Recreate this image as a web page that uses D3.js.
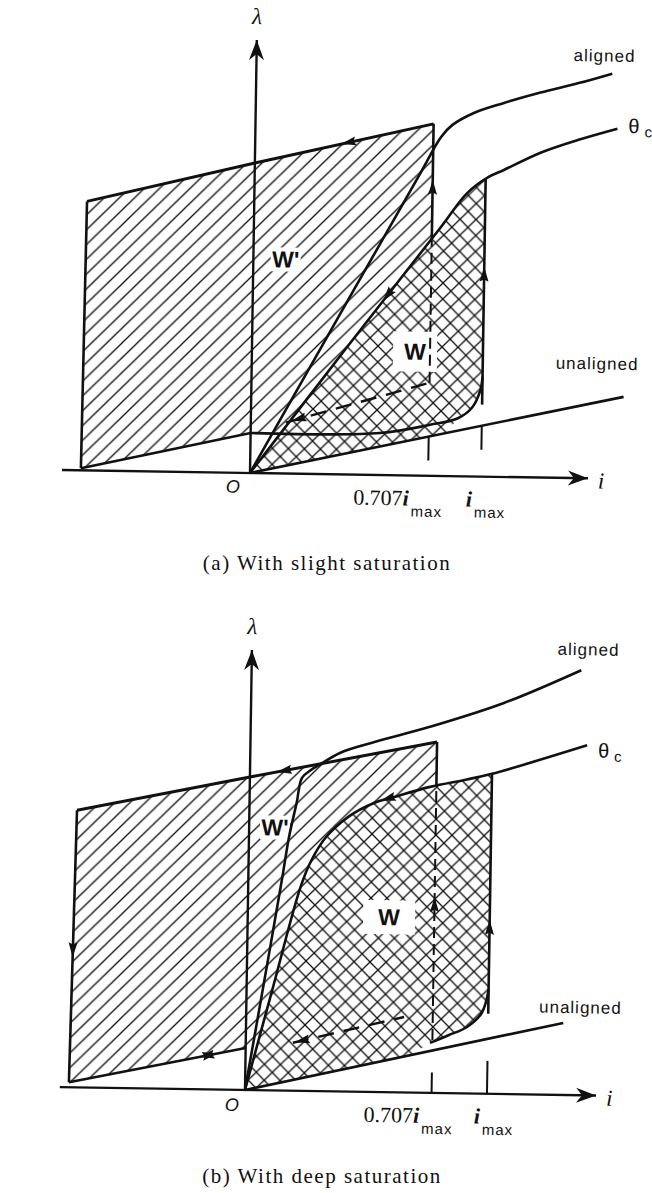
<!DOCTYPE html>
<html>
<head>
<meta charset="utf-8">
<script src="https://cdn.jsdelivr.net/npm/d3@7"></script>
<style>
  html, body { margin: 0; padding: 0; background: #fff; }
  svg { display: block; }
</style>
</head>
<body>
<svg id="fig" width="652" height="1193"></svg>
<script>
// Current i is given in units of i_max, flux linkage λ in per-unit steps.

// ---------- (a) slight saturation ----------
const alignedA   = [[0,0],[0.297,1.70],[0.635,3.00],[0.748,3.39],[0.807,3.51],[0.927,3.635],[1.10,3.74],[1.32,3.85],[1.56,3.95],[1.78,4.05]];
const thetaCA    = [[0,0],[0.3015,1.26],[0.755,2.49],[0.895,2.83],[1.02,3.00],[1.106,3.07],[1.33,3.25],[1.56,3.38],[1.82,3.50]];
const unalignedA = [[0,0],[1.89,0.82]];
const topEdgeA   = [[-0.65,2.69],[0,3.10],[0.707,3.52]];
const lowEdgeA   = [[-0.66,0.02],[0,0.40]];
const chopA      = [[0,0.40],[0.462,0.42],[0.713,0.51],[0.864,0.58],[0.943,0.69],[0.988,0.86],[1,1.0]];
const wLowerA    = [[0.80,0.43],[0.864,0.58],[0.943,0.69],[0.988,0.86],[1,1.0]];
const backDashA  = [[0.0805,0.51],[0.707,0.93]];

// ---------- (b) deep saturation ----------
const alignedB   = [[0,0],[0.042,1.40],[0.072,2.11],[0.091,2.54],[0.113,2.88],[0.129,3.13],[0.159,3.21],[0.187,3.26],[0.270,3.39],[0.410,3.50],[0.670,3.66],[1.06,3.91],[1.51,4.25]];
const thetaCB    = [[0,0],[0.050,1.00],[0.130,2.04],[0.166,2.31],[0.217,2.54],[0.305,2.75],[0.412,2.89],[0.498,2.95],[0.675,3.06],[0.865,3.14],[1.0,3.20],[1.553,3.50]];
const unalignedB = [[0,0],[1.434,0.72]];
const topEdgeB   = [[-0.636,2.77],[0,3.13],[0.707,3.51]];
const lowEdgeB   = [[-0.655,0.05],[0,0.42]];
const wLowerB    = [[0.60,0.375],[0.695,0.50],[0.789,0.58],[0.886,0.665],[0.965,0.81],[1,1.04]];
const backDashB  = [[0.113,0.48],[0.566,0.755]];

// current markers on the i axis
const tickCurrents = [0.707, 1];
const tickCoeffs   = ["0.707", ""];

// direction arrows on the flux-linkage trajectory
const arrowsA = [
  { on: "top",   at: [0.267, 3.31], dir: -1 },
  { on: "rise",  at: [0.707, 2.96], dir:  1 },
  { on: "imax",  at: [1, 2.10],     dir:  1 },
  { on: "theta", at: [0.46, 1.75],  dir: -1 },
  { on: "back",  at: [0.10, 0.52],  dir: -1 }
];
const arrowsB = [
  { on: "top",      at: [0.057, 3.13],  dir: -1 },
  { on: "left",     at: [-0.65, 1.30],  dir:  1 },
  { on: "low",      at: [-0.083, 0.34], dir:  0 },
  { on: "theta",    at: [0.448, 2.87],  dir: -1 },
  { on: "riseDash", at: [0.707, 1.96],  dir:  1 },
  { on: "imax",     at: [1, 1.74],      dir:  1 },
  { on: "back",     at: [0.12, 0.48],   dir: -1 }
];

const SANS  = "'Liberation Sans', Arial, sans-serif";
const SERIF = "'Liberation Serif', 'Times New Roman', serif";
const INK = "#111";
const tilt = 0.9;

const panels = [
  {
    ox: 250, oy: 473, unitX: 231, iAxis: [-0.76, 1.661], lamAxis: 4.33,
    aligned: alignedA, thetaC: thetaCA, unaligned: unalignedA,
    top: topEdgeA, low: lowEdgeA, chop: chopA, wLower: wLowerA, back: backDashA,
    riseFloor: 0.93, imaxFloor: 0.72, arrows: arrowsA,
    tickDash: "24,200",
    W: { at: [0.629, 1.24], w: 44, h: 40 }, Wp: { at: [0.0726, 2.14], w: 30, h: 24 },
    lab: { aligned: [-8, -12], unaligned: [-27, -27], theta: [11, 4], O: [-17, 20],
           t0: -30, t1: 5 },
    caption: "(a) With slight saturation", capX: 327, capY: 570
  },
  {
    ox: 245, oy: 1090, unitX: 242, iAxis: [-0.70, 1.6425], lamAxis: 4.40,
    aligned: alignedB, thetaC: thetaCB, unaligned: unalignedB,
    top: topEdgeB, low: lowEdgeB, chop: null, wLower: wLowerB, back: backDashB,
    riseFloor: 0.53, imaxFloor: 0.80, arrows: arrowsB,
    tickDash: "0,22,60",
    W: { at: [0.488, 1.75], w: 52, h: 34 }, Wp: { at: [0.0508, 2.63], w: 30, h: 24 },
    lab: { aligned: [7, -15], unaligned: [17, -10], theta: [11, 12], O: [-13, 21],
           t0: -23, t1: 7 },
    caption: "(b) With deep saturation", capX: 322, capY: 1183
  }
];

const svg = d3.select("#fig");
svg.append("rect").attr("width", 652).attr("height", 1193).attr("fill", "#fff");

// hatch fills: single diagonal for W', crossed diagonals for W
const defs = svg.append("defs");
defs.append("pattern").attr("id", "hatch").attr("patternUnits", "userSpaceOnUse")
  .attr("width", 15).attr("height", 15)
  .append("path").attr("d", "M-3,3 L3,-3 M0,15 L15,0 M12,18 L18,12")
  .attr("stroke", INK).attr("stroke-width", 1.35).attr("fill", "none");
defs.append("pattern").attr("id", "cross").attr("patternUnits", "userSpaceOnUse")
  .attr("width", 16).attr("height", 16)
  .append("path").attr("d", "M-3,3 L3,-3 M0,16 L16,0 M13,19 L19,13 M-3,13 L3,19 M0,0 L16,16 M13,-3 L19,3")
  .attr("stroke", INK).attr("stroke-width", 1.3).attr("fill", "none");

function head(g, px, py, ang, len, half, notch) {
  g.append("path")
    .attr("d", `M0,0 L${-len},${-half} L${-len * notch},0 L${-len},${half} Z`)
    .attr("transform", `translate(${px},${py}) rotate(${ang})`)
    .attr("fill", INK);
}

function headAlong(g, node, target, dir) {
  const L = node.getTotalLength();
  let best = 0, bd = Infinity;
  for (let s = 0; s <= L; s += 0.5) {
    const q = node.getPointAtLength(s);
    const dd = (q.x - target[0]) ** 2 + (q.y - target[1]) ** 2;
    if (dd < bd) { bd = dd; best = s; }
  }
  const put = (s, sign) => {
    s = Math.max(0, Math.min(L, s));
    const a = node.getPointAtLength(Math.max(0, s - 2));
    const b = node.getPointAtLength(Math.min(L, s + 2));
    const p = node.getPointAtLength(s);
    const ang = Math.atan2(b.y - a.y, b.x - a.x) * 180 / Math.PI + (sign < 0 ? 180 : 0);
    head(g, p.x, p.y, ang, 15, 4.5, 0.85);
  };
  if (dir === 0) { put(best + 9, 1); put(best - 9, -1); }
  else put(best, dir);
}

function drawPanel(P) {
  const g = svg.append("g").attr("transform", `rotate(${tilt},${P.ox},${P.oy})`);
  const x = d3.scalePow().exponent(0.75).domain([0, 1]).range([P.ox, P.ox + P.unitX]);
  const y = d3.scaleLinear().domain([0, 1]).range([P.oy, P.oy - 100]);
  const straight = d3.line().x(d => x(d[0])).y(d => y(d[1]));
  const smooth = d3.line().x(d => x(d[0])).y(d => y(d[1])).curve(d3.curveCatmullRom.alpha(0.5));
  const closed = d3.line().x(d => x(d[0])).y(d => y(d[1])).curve(d3.curveLinearClosed);

  // crossing of a curve with a vertical current line / horizontal flux line
  const lambdaAt = (curve, i) => {
    const px = x(i);
    for (let k = 0; k < curve.length - 1; k++) {
      const a = curve[k], b = curve[k + 1];
      const xa = x(a[0]), xb = x(b[0]);
      if (px >= xa && px <= xb) {
        const t = (px - xa) / (xb - xa);
        return y.invert(y(a[1]) + t * (y(b[1]) - y(a[1])));
      }
    }
    return curve[curve.length - 1][1];
  };
  const currentAt = (curve, lam) => {
    const py = y(lam);
    for (let k = 0; k < curve.length - 1; k++) {
      const a = curve[k], b = curve[k + 1];
      const ya = y(a[1]), yb = y(b[1]);
      if ((py - ya) * (py - yb) <= 0) {
        const t = (py - ya) / (yb - ya);
        return x.invert(x(a[0]) + t * (x(b[0]) - x(a[0])));
      }
    }
    return 0;
  };

  const riseI = P.top[P.top.length - 1][0];
  const riseTop = P.top[P.top.length - 1][1];
  const riseMeet = lambdaAt(P.thetaC, riseI);
  const lowLam = P.low[P.low.length - 1][1];
  const iLow = currentAt(P.thetaC, lowLam);
  const imaxMeet = lambdaAt(P.thetaC, 1);

  // W' : energy returned (single hatch)
  const wPrime = [...P.top, [riseI, riseMeet],
    ...P.thetaC.filter(d => d[0] > iLow && d[0] < riseI).reverse(),
    [iLow, lowLam], ...P.low.slice().reverse()];
  // W : energy converted (cross hatch)
  const wReg = [[0, 0], ...P.wLower, [1, imaxMeet],
    ...P.thetaC.filter(d => d[0] > 0 && d[0] < 1).reverse()];

  g.append("path").attr("d", closed(wPrime)).attr("fill", "url(#hatch)");
  g.append("path").attr("d", closed(wReg)).attr("fill", "url(#cross)");

  // white label plates
  [P.W, P.Wp].forEach(b => {
    g.append("rect").attr("x", x(b.at[0]) - b.w / 2).attr("y", y(b.at[1]) - b.h / 2)
      .attr("width", b.w).attr("height", b.h).attr("fill", "#fff");
  });

  const stroke = (sel, w) => sel.attr("fill", "none").attr("stroke", INK)
    .attr("stroke-width", w).attr("stroke-linejoin", "round");
  const nodes = {};

  // axes
  stroke(g.append("path").attr("d", straight([[P.iAxis[0], 0], [P.iAxis[1], 0]])), 2.4);
  head(g, x(P.iAxis[1]), y(0), 0, 20, 7.5, 0.7);
  stroke(g.append("path").attr("d", straight([[0, 0], [0, P.lamAxis]])), 2.4);
  head(g, x(0), y(P.lamAxis), -90, 20, 7.5, 0.7);

  // magnetisation curves
  stroke(g.append("path").attr("d", straight(P.unaligned)), 2.6);
  stroke(g.append("path").attr("d", smooth(P.aligned)), 2.6);
  nodes.theta = stroke(g.append("path").attr("d", smooth(P.thetaC)), 2.6).node();

  // trajectory
  nodes.top = stroke(g.append("path").attr("d", straight(P.top)), 3).node();
  nodes.left = stroke(g.append("path").attr("d", straight([P.top[0], P.low[0]])), 2.6).node();
  nodes.low = stroke(g.append("path").attr("d", straight(P.low)), 2.6).node();
  nodes.rise = stroke(g.append("path").attr("d", straight([[riseI, riseMeet], [riseI, riseTop]])), 2.6).node();
  nodes.riseDash = stroke(g.append("path").attr("d", straight([[riseI, P.riseFloor], [riseI, riseMeet]])), 2)
    .attr("stroke-dasharray", "11,6").node();
  nodes.imax = stroke(g.append("path").attr("d", straight([[1, P.imaxFloor], [1, imaxMeet]])), 2.6).node();
  if (P.chop) stroke(g.append("path").attr("d", smooth(P.chop)), 2.6);
  else stroke(g.append("path").attr("d", smooth(P.wLower.slice(1))), 2.6);
  nodes.back = stroke(g.append("path").attr("d", straight(P.back)), 2.4)
    .attr("stroke-dasharray", "16,10").node();

  // current markers dropped from the unaligned line
  const uEnd = P.unaligned[1];
  tickCurrents.forEach(t => {
    const px = x(t);
    const py = y(0) + (px - x(0)) / (x(uEnd[0]) - x(0)) * (y(uEnd[1]) - y(0));
    stroke(g.append("line").attr("x1", px).attr("x2", px).attr("y1", py).attr("y2", y(0)), 2)
      .attr("stroke-dasharray", P.tickDash);
  });

  P.arrows.forEach(a => headAlong(g, nodes[a.on], [x(a.at[0]), y(a.at[1])], a.dir));

  // labels
  const txt = (xx, yy, str, font, size, extra) => {
    const t = g.append("text").attr("x", xx).attr("y", yy).text(str)
      .attr("font-family", font).attr("font-size", size).attr("fill", INK);
    if (extra) extra(t);
    return t;
  };
  txt(x(0), y(P.lamAxis) - 16, "λ", SERIF, 23, t => t.attr("text-anchor", "middle").attr("font-style", "italic"));
  txt(x(P.iAxis[1]) + 10, y(0) + 10, "i", SERIF, 23, t => t.attr("font-style", "italic"));
  txt(x(0) + P.lab.O[0], y(0) + P.lab.O[1], "O", SANS, 18, t => t.attr("text-anchor", "middle").attr("font-style", "italic"));

  const aEnd = P.aligned[P.aligned.length - 1];
  txt(x(aEnd[0]) + P.lab.aligned[0], y(aEnd[1]) + P.lab.aligned[1], "aligned", SANS, 17,
      t => t.attr("text-anchor", "middle").attr("letter-spacing", 1));
  txt(x(uEnd[0]) + P.lab.unaligned[0], y(uEnd[1]) + P.lab.unaligned[1], "unaligned", SANS, 17,
      t => t.attr("text-anchor", "middle").attr("letter-spacing", 1));
  const cEnd = P.thetaC[P.thetaC.length - 1];
  const th = txt(x(cEnd[0]) + P.lab.theta[0], y(cEnd[1]) + P.lab.theta[1], "θ", SANS, 20);
  th.append("tspan").attr("dx", 5).attr("dy", 4).attr("font-size", 15).text("c");

  txt(x(P.W.at[0]), y(P.W.at[1]) + 8, "W", SANS, 23, t => t.attr("text-anchor", "middle").attr("font-weight", "bold"));
  txt(x(P.Wp.at[0]), y(P.Wp.at[1]) + 8, "W'", SANS, 23, t => t.attr("text-anchor", "middle").attr("font-weight", "bold"));

  tickCurrents.forEach((t, k) => {
    const cx = x(t) + (k === 0 ? P.lab.t0 : P.lab.t1);
    const lt = g.append("text").attr("x", cx).attr("y", y(0) + 30)
      .attr("text-anchor", "middle").attr("fill", INK);
    if (tickCoeffs[k]) lt.append("tspan").attr("font-family", SERIF).attr("font-size", 22).text(tickCoeffs[k]);
    lt.append("tspan").attr("font-family", SERIF).attr("font-size", 22)
      .attr("font-style", "italic").attr("font-weight", "bold").text("i");
    lt.append("tspan").attr("font-family", SANS).attr("font-size", 15).attr("dx", 2).attr("dy", 11)
      .attr("letter-spacing", 1).text("max");
  });

  svg.append("text").attr("x", P.capX).attr("y", P.capY).attr("text-anchor", "middle")
    .attr("font-family", SERIF).attr("font-size", 21).attr("letter-spacing", 1.5)
    .attr("fill", INK).text(P.caption);
}

panels.forEach(drawPanel);
</script>
</body>
</html>
